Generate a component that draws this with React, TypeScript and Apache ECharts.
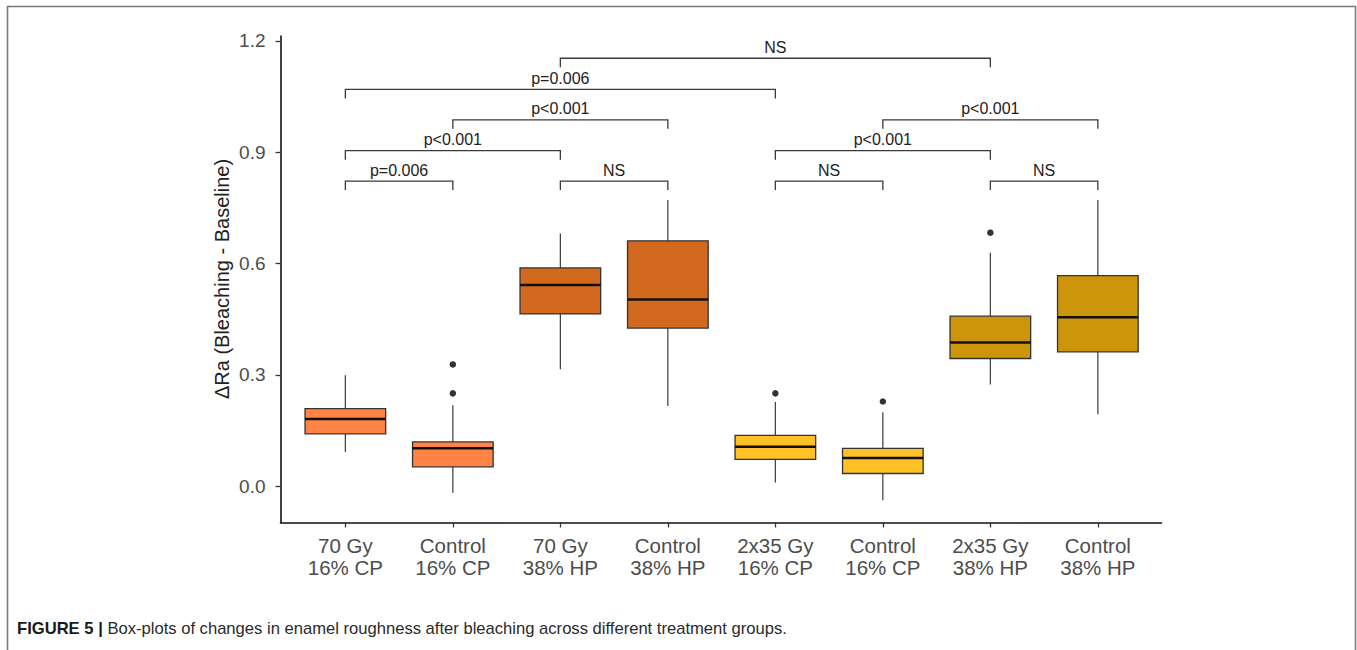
import React, { useEffect, useRef } from "react";
import * as echarts from "echarts";

const categories = [
  "70 Gy\n16% CP",
  "Control\n16% CP",
  "70 Gy\n38% HP",
  "Control\n38% HP",
  "2x35 Gy\n16% CP",
  "Control\n16% CP",
  "2x35 Gy\n38% HP",
  "Control\n38% HP",
];
const lowerWhisker = [0.092, -0.018, 0.315, 0.216, 0.01, -0.038, 0.274, 0.194];
const q1 = [0.141, 0.052, 0.464, 0.426, 0.072, 0.034, 0.344, 0.362];
const median = [0.181, 0.102, 0.542, 0.503, 0.106, 0.076, 0.387, 0.455];
const q3 = [0.209, 0.119, 0.588, 0.661, 0.137, 0.102, 0.458, 0.567];
const upperWhisker = [0.299, 0.218, 0.681, 0.771, 0.227, 0.199, 0.629, 0.771];
const boxColors = ["#FF8247", "#FF8247", "#D2691E", "#D2691E", "#FFC125", "#FFC125", "#CD950C", "#CD950C"];
const outliers = [
  [1, 0.328],
  [1, 0.25],
  [4, 0.25],
  [5, 0.228],
  [6, 0.683],
];
// [from group, to group, bracket height, label]
const brackets: [number, number, number, string][] = [
  [0, 1, 0.822, "p=0.006"],
  [2, 3, 0.822, "NS"],
  [0, 2, 0.904, "p<0.001"],
  [1, 3, 0.987, "p<0.001"],
  [0, 4, 1.069, "p=0.006"],
  [2, 6, 1.153, "NS"],
  [4, 5, 0.822, "NS"],
  [6, 7, 0.822, "NS"],
  [4, 6, 0.904, "p<0.001"],
  [5, 7, 0.987, "p<0.001"],
];
const yTicks = [0, 0.3, 0.6, 0.9, 1.2];
const yMin = -0.098;
const yMax = 1.213;
const yTitle = "ΔRa (Bleaching - Baseline)";
const captionBold = "FIGURE 5 |";
const captionText = "Box-plots of changes in enamel roughness after bleaching across different treatment groups.";

const FONT = "'Liberation Sans', Arial, Helvetica, sans-serif";

export default function App() {
  const ref = useRef<HTMLDivElement>(null);
  useEffect(() => {
    if (!ref.current) return;
    const chart = echarts.init(ref.current, null, { renderer: "svg" });
    const boxData = categories.map((_, i) => [i, lowerWhisker[i], q1[i], median[i], q3[i], upperWhisker[i]]);
    const option: any = {
      animation: false,
      backgroundColor: "#ffffff",
      grid: [
        { left: 280.5, width: 881, top: 36, height: 486.5 },
        { left: 291.6, width: 860, top: 36, height: 486.5 },
      ],
      xAxis: [
        {
          type: "value",
          gridIndex: 0,
          min: 0,
          max: 1,
          axisLine: { show: true, onZero: false, lineStyle: { color: "#111", width: 1.6 } },
          axisTick: { show: false },
          axisLabel: { show: false },
          splitLine: { show: false },
        },
        {
          type: "category",
          gridIndex: 1,
          data: categories,
          boundaryGap: true,
          axisLine: { show: false, onZero: false },
          axisTick: { show: true, alignWithLabel: true, length: 5, lineStyle: { color: "#333", width: 1.3 } },
          axisLabel: {
            interval: 0,
            fontSize: 20.5,
            lineHeight: 22,
            color: "#4d4d4d",
            margin: 12,
            fontFamily: FONT,
          },
          splitLine: { show: false },
        },
      ],
      yAxis: [
        {
          type: "value",
          gridIndex: 0,
          min: yMin,
          max: yMax,
          axisLine: { show: true, onZero: false, lineStyle: { color: "#111", width: 1.6 } },
          axisTick: { show: true, length: 5, customValues: yTicks, lineStyle: { color: "#333", width: 1.3 } },
          axisLabel: {
            customValues: yTicks,
            formatter: (v: number) => v.toFixed(1),
            fontSize: 19,
            color: "#4d4d4d",
            margin: 15,
            fontFamily: FONT,
          },
          splitLine: { show: false },
        },
        {
          type: "value",
          gridIndex: 1,
          min: yMin,
          max: yMax,
          show: false,
          splitLine: { show: false },
        },
      ],
      series: [
        {
          type: "custom",
          xAxisIndex: 1,
          yAxisIndex: 1,
          data: boxData,
          encode: { x: 0, y: [1, 2, 3, 4, 5] },
          renderItem: (params: any, api: any) => {
            const idx = api.value(0);
            const lo = api.coord([idx, api.value(1)]);
            const b1 = api.coord([idx, api.value(2)]);
            const md = api.coord([idx, api.value(3)]);
            const b3 = api.coord([idx, api.value(4)]);
            const hi = api.coord([idx, api.value(5)]);
            const w = api.size([1, 0])[0] * 0.75;
            const x = lo[0];
            const color = boxColors[params.dataIndex];
            return {
              type: "group",
              children: [
                { type: "line", shape: { x1: x, y1: hi[1], x2: x, y2: b3[1] }, style: { stroke: "#3a3a3a", lineWidth: 1.2 } },
                { type: "line", shape: { x1: x, y1: b1[1], x2: x, y2: lo[1] }, style: { stroke: "#3a3a3a", lineWidth: 1.2 } },
                {
                  type: "rect",
                  shape: { x: x - w / 2, y: b3[1], width: w, height: b1[1] - b3[1] },
                  style: { fill: color, stroke: "#333", lineWidth: 1.3 },
                },
                { type: "line", shape: { x1: x - w / 2, y1: md[1], x2: x + w / 2, y2: md[1] }, style: { stroke: "#111", lineWidth: 2.6 } },
              ],
            };
          },
          z: 2,
        },
        {
          type: "scatter",
          xAxisIndex: 1,
          yAxisIndex: 1,
          data: outliers,
          symbolSize: 6.5,
          itemStyle: { color: "#000" },
          z: 3,
        },
        {
          type: "custom",
          xAxisIndex: 1,
          yAxisIndex: 1,
          data: brackets.map((b) => [b[0], b[1], b[2]]),
          encode: { x: [0, 1], y: 2 },
          renderItem: (params: any, api: any) => {
            const p1 = api.coord([api.value(0), api.value(2)]);
            const p2 = api.coord([api.value(1), api.value(2)]);
            const drop = 9;
            return {
              type: "group",
              children: [
                {
                  type: "polyline",
                  shape: {
                    points: [
                      [p1[0], p1[1] + drop],
                      [p1[0], p1[1]],
                      [p2[0], p2[1]],
                      [p2[0], p2[1] + drop],
                    ],
                  },
                  style: { stroke: "#3a3a3a", lineWidth: 1.3, fill: "none" },
                },
                {
                  type: "text",
                  x: (p1[0] + p2[0]) / 2,
                  y: p1[1] - 3,
                  style: {
                    text: brackets[params.dataIndex][3],
                    fontSize: 16,
                    fontFamily: FONT,
                    fill: "#222",
                    align: "center",
                    verticalAlign: "bottom",
                  },
                },
              ],
            };
          },
          z: 4,
        },
      ],
      graphic: [
        {
          type: "polyline",
          shape: { points: [[7.5, 650], [7.5, 6.5], [1355.5, 6.5], [1355.5, 650]] },
          style: { stroke: "#7a7a7a", lineWidth: 1.6, fill: "none" },
          silent: true,
        },
        {
          type: "text",
          x: 222,
          y: 279,
          rotation: Math.PI / 2,
          style: {
            text: yTitle,
            fontSize: 20,
            fontFamily: FONT,
            fill: "#222",
            align: "center",
            verticalAlign: "middle",
          },
        },
        {
          type: "text",
          x: 17,
          y: 628,
          style: {
            text: "{b|" + captionBold + "} " + captionText,
            fontSize: 16.6,
            fontFamily: FONT,
            fill: "#2a2a2a",
            verticalAlign: "middle",
            rich: { b: { fontWeight: "bold", fontSize: 16.6, fontFamily: FONT, fill: "#1a1a1a" } },
          },
        },
      ],
    };
    chart.setOption(option);
    return () => chart.dispose();
  }, []);
  return <div ref={ref} style={{ position: "absolute", left: 0, top: 0, width: 1357, height: 650 }} />;
}
